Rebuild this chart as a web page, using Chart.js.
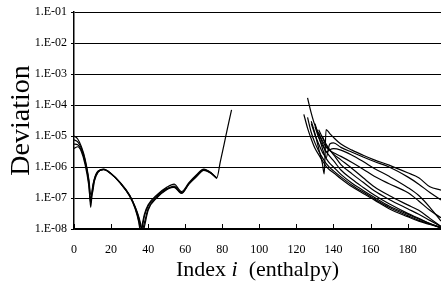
<!DOCTYPE html>
<html>
<head>
<meta charset="utf-8">
<script src="https://cdn.jsdelivr.net/npm/chart.js@4.4.1/dist/chart.umd.min.js"></script>
<style>
  html, body { margin: 0; padding: 0; background: #fff; overflow: hidden; }
  #chart { display: block; }
</style>
</head>
<body>
<canvas id="chart" width="441" height="285"></canvas>
<script>
// axis ticks
const xTicks = [0, 20, 40, 60, 80, 100, 120, 140, 160, 180];
const yTicks = [1e-8, 1e-7, 1e-6, 1e-5, 1e-4, 1e-3, 1e-2, 1e-1];
const yTickLabels = ['1.E-08', '1.E-07', '1.E-06', '1.E-05', '1.E-04', '1.E-03', '1.E-02', '1.E-01'];

// left group (index 0 - 85)
const leftX = [0, 2, 4, 6, 8, 9, 10, 11, 13, 16, 20, 25, 30, 33, 35, 36, 37, 38, 40, 45, 50, 54, 58, 62, 66, 70, 74, 77, 79, 81, 83, 85];
const left1 = [1.0e-5, 8.0e-6, 4.5e-6, 1.8e-6, 4.0e-7, 1.3e-7, 1.5e-7, 3.5e-7, 6.8e-7, 8.5e-7, 6.2e-7, 3.1e-7, 1.2e-7, 4.8e-8, 1.8e-8, 8e-9, 1.6e-8, 3.0e-8, 6.0e-8, 1.3e-7, 2.2e-7, 2.8e-7, 1.6e-7, 3.1e-7, 5.5e-7, 8.5e-7, 6.5e-7, 4.4e-7, 1.55e-6, 5.5e-6, 2.0e-5, 7.0e-5];
const left2 = [7.5e-6, 6.5e-6, 4.0e-6, 1.6e-6, 3.5e-7, 9e-8, 1.8e-7, 3.8e-7, 7.0e-7, 8.3e-7, 6.0e-7, 3.0e-7, 1.15e-7, 4.5e-8, 1.6e-8, 7e-9, 1.3e-8, 2.6e-8, 5.5e-8, 1.2e-7, 2.0e-7, 2.2e-7, 1.4e-7, 2.9e-7, 5.2e-7, 8.2e-7, 6.4e-7, 4.5e-7, null, null, null, null];
const left3 = [5.5e-6, 5.2e-6, 3.5e-6, 1.4e-6, 3.0e-7, 5e-8, 2.0e-7, 4.0e-7, 7.2e-7, 8.2e-7, 6.0e-7, 3.0e-7, 1.2e-7, 5.0e-8, 2.2e-8, 1.2e-8, 1.0e-8, 1.6e-8, 4.5e-8, 1.1e-7, 1.9e-7, 2.4e-7, 1.45e-7, 2.8e-7, 4.8e-7, 7.8e-7, 6.2e-7, 4.3e-7, null, null, null, null];
const left4 = [4.0e-6, 4.5e-6, 3.1e-6, 1.2e-6, 2.5e-7, 7e-8, 2.2e-7, 4.2e-7, 7.4e-7, 8.4e-7, 6.1e-7, 3.1e-7, 1.25e-7, 5.2e-8, 2.4e-8, 1.4e-8, 7e-9, 1.2e-8, 4.0e-8, 1.05e-7, 1.85e-7, 2.3e-7, 1.5e-7, 2.9e-7, 5.0e-7, 8.0e-7, 6.3e-7, 4.4e-7, null, null, null, null];

// right group (index 124 - 198)
const rightX = [124, 126, 128, 130, 132, 134, 135, 136, 138, 140, 144, 150, 156, 162, 170, 180, 186, 192, 198];
const right1 = [5e-5, 1.8e-5, 8e-6, 4e-6, 2.5e-6, 1.6e-6, 1.3e-6, 1.05e-6, 8e-7, 6.5e-7, 4.2e-7, 2.3e-7, 1.4e-7, 8.7e-8, 4.5e-8, 2.5e-8, 1.8e-8, 1.4e-8, 1.1e-8];
const right2 = [null, 4e-5, 1.3e-5, 6e-6, 3.3e-6, 2e-6, 1.6e-6, 1.3e-6, 9.5e-7, 7.5e-7, 4.8e-7, 2.6e-7, 1.55e-7, 9.5e-8, 5e-8, 2.7e-8, 1.9e-8, 1.45e-8, 1.1e-8];
const right3 = [null, null, 2.5e-5, 1.1e-5, 5.5e-6, 3e-6, 2.4e-6, 1.9e-6, 1.3e-6, 1e-6, 5.8e-7, 3e-7, 1.75e-7, 1.05e-7, 5.5e-8, 3e-8, 2.1e-8, 1.5e-8, 1.1e-8];
const right4 = [null, null, null, 2e-5, 9e-6, 5e-6, 4e-6, 3.2e-6, 2.2e-6, 1.6e-6, 8e-7, 4e-7, 2.2e-7, 1.25e-7, 6.5e-8, 3.2e-8, 2.2e-8, 1.5e-8, 1.1e-8];
const right5 = [null, null, null, null, 1.6e-5, 9e-6, 7e-6, 5.5e-6, 3.6e-6, 2.6e-6, 1.7e-6, 9e-7, 4.5e-7, 2.3e-7, 1.2e-7, 6e-8, 4e-8, 2.2e-8, 1.2e-8];
const right6 = [null, 1.7e-4, 5.5e-5, 2.2e-5, 1.2e-5, 7e-6, 5.5e-6, 4.4e-6, 3.4e-6, 2.9e-6, 2.2e-6, 1.4e-6, 8.5e-7, 5e-7, 2.9e-7, 1.5e-7, 8e-8, 4e-8, 2.3e-8];
const right7 = [null, null, 3e-5, 1.2e-5, 4e-6, 1.3e-6, 6e-7, 1.6e-5, 1.2e-5, 9e-6, 5.5e-6, 3.5e-6, 2.4e-6, 1.7e-6, 1.15e-6, 6.5e-7, 4.5e-7, 2.3e-7, 1.8e-7];
const right8 = [null, null, null, 2.5e-5, 1e-5, 4e-6, 2.6e-6, 2e-6, 5.5e-6, 6e-6, 4.3e-6, 3e-6, 2.1e-6, 1.5e-6, 1e-6, 4.8e-7, 2.8e-7, 1.5e-7, 8.7e-8];
const right9 = [null, null, null, null, 1.3e-5, 6e-6, 4.2e-6, 3e-6, 3.6e-6, 3.9e-6, 3.5e-6, 2.4e-6, 1.5e-6, 9e-7, 5e-7, 2.2e-7, 1.2e-7, 5e-8, 1.8e-8];
const right10 = [null, null, null, null, null, 1e-5, 7e-6, 5e-6, 3.5e-6, 2.5e-6, 1.2e-6, 6e-7, 3.2e-7, 1.7e-7, 9e-8, 4.5e-8, 3e-8, 1.9e-8, 1.2e-8];

const leftSeries = [left1, left2, left3, left4];
const rightSeries = [right1, right2, right3, right4, right5, right6, right7, right8, right9, right10];

function makeDataset(xs, ys) {
    return {
        data: xs.map((x, i) => ({ x: x, y: ys[i] })),
        borderColor: '#000',
        borderWidth: 1.2,
        pointRadius: 0,
        fill: false,
        cubicInterpolationMode: 'monotone',
        spanGaps: false
    };
}

const datasets = leftSeries.map(s => makeDataset(leftX, s))
    .concat(rightSeries.map(s => makeDataset(rightX, s)));

// small tick marks pointing up into the plot, plus the x title with italic i
const axisExtras = {
    id: 'axisExtras',
    afterDraw(chart) {
        const ctx = chart.ctx;
        const xs = chart.scales.x;
        const area = chart.chartArea;
        ctx.save();
        ctx.strokeStyle = '#000';
        ctx.lineWidth = 1;
        xTicks.forEach(v => {
            const px = Math.round(xs.getPixelForValue(v)) + 0.5;
            ctx.beginPath();
            ctx.moveTo(px, area.bottom);
            ctx.lineTo(px, area.bottom - 5);
            ctx.stroke();
        });

        const parts = [
            { text: 'Index ', font: '22px "Liberation Serif"' },
            { text: 'i', font: 'italic 22px "Liberation Serif"' },
            { text: '  (enthalpy)', font: '22px "Liberation Serif"' }
        ];
        let total = 0;
        parts.forEach(p => { ctx.font = p.font; p.w = ctx.measureText(p.text).width; total += p.w; });
        let x = (area.left + area.right) / 2 - total / 2;
        ctx.fillStyle = '#000';
        ctx.textBaseline = 'alphabetic';
        ctx.textAlign = 'left';
        parts.forEach(p => { ctx.font = p.font; ctx.fillText(p.text, x, 276); x += p.w; });
        ctx.restore();
    }
};

new Chart(document.getElementById('chart'), {
    type: 'line',
    data: { datasets: datasets },
    options: {
        responsive: false,
        animation: false,
        devicePixelRatio: 1,
        layout: { padding: { top: 12, right: 0, bottom: 0, left: 0 } },
        plugins: {
            legend: { display: false },
            tooltip: { enabled: false }
        },
        scales: {
            x: {
                type: 'linear',
                min: 0,
                max: 198,
                afterBuildTicks: s => { s.ticks = xTicks.map(v => ({ value: v })); },
                afterFit: s => { s.height = 56; },
                grid: { display: false },
                border: { display: true, color: '#000', width: 1.5 },
                ticks: {
                    color: '#000',
                    font: { family: 'Liberation Serif', size: 12 },
                    padding: 6,
                    maxRotation: 0,
                    autoSkip: false
                }
            },
            y: {
                type: 'logarithmic',
                min: 1e-8,
                max: 1e-1,
                afterBuildTicks: s => { s.ticks = yTicks.map(v => ({ value: v })); },
                afterFit: s => { s.width = 74; },
                grid: { color: '#000', lineWidth: 1, tickLength: 3, drawTicks: true },
                border: { display: true, color: '#000', width: 1.5 },
                ticks: {
                    color: '#000',
                    font: { family: 'Liberation Serif', size: 12 },
                    padding: 4,
                    autoSkip: false,
                    callback: v => yTickLabels[yTicks.indexOf(v)]
                },
                title: {
                    display: true,
                    text: 'Deviation',
                    color: '#000',
                    font: { family: 'Liberation Serif', size: 28 },
                    padding: { top: 5, bottom: 0 }
                }
            }
        }
    },
    plugins: [axisExtras]
});
</script>
</body>
</html>
